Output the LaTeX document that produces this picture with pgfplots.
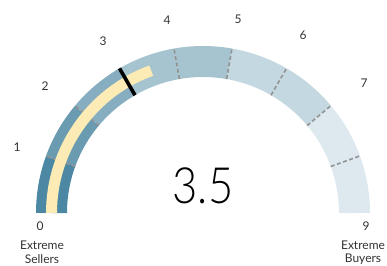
\documentclass[border=0pt]{standalone}
\usepackage{fontspec}
\setmainfont{Lato}
\newfontfamily\lightfont{Lato Light}
\usepackage{pgfplots}
\pgfplotsset{compat=1.18}
\definecolor{seg0}{HTML}{4C87A3}
\definecolor{seg1}{HTML}{6A9BB1}
\definecolor{seg2}{HTML}{86AEC0}
\definecolor{seg3}{HTML}{A6C4D0}
\definecolor{seg4}{HTML}{A6C4D0}
\definecolor{seg5}{HTML}{C3D8E0}
\definecolor{seg6}{HTML}{C3D8E0}
\definecolor{seg7}{HTML}{DDE9EE}
\definecolor{seg8}{HTML}{DDE9EE}
\definecolor{barcol}{HTML}{FCEBB4}
\definecolor{txt}{HTML}{333333}
\def\gaugevalue{3.5}
\def\needlevalue{3}
\def\Rout{167}
\def\Rin{136}
\begin{document}
\begin{tikzpicture}
\begin{axis}[name=ax, x=1pt, y=1pt,
  xmin=-203, xmax=184, ymin=-52, ymax=213,
  hide axis, clip=false]
% gauge segments (0..9, 20 degrees each)
\pgfplotsinvokeforeach{0,...,8}{
  \draw[seg#1, line width=31pt] (axis cs:0,0) ++({180-20*#1}:151.5pt)
     arc[start angle={180-20*#1}, end angle={180-20*(#1+1)}, radius=151.5pt];
}
% dashed separators
\pgfplotsinvokeforeach{1,2,4,5,6,7,8}{
  \draw[gray!85, line width=1.6pt, dash pattern=on 4pt off 2.5pt]
     (axis cs:0,0) ++({180-20*#1}:\Rin pt) -- ++({180-20*#1}:31pt);
}
% value bar
\draw[barcol, line width=11pt] (axis cs:0,0) ++(180:151.5pt)
   arc[start angle=180, end angle={180-20*\gaugevalue}, radius=151.5pt];
% needle
\draw[black, line width=3.6pt] (axis cs:0,0) ++({180-20*\needlevalue}:\Rin pt) -- ++({180-20*\needlevalue}:31pt);
% labels
\begin{scope}[every node/.style={text=txt, font=\fontsize{12}{14}\selectfont}]
\node at (axis cs:-163,-13) {0};
\node at (axis cs:-186,66) {1};
\node at (axis cs:-158,127) {2};
\node at (axis cs:-100,172) {3};
\node at (axis cs:-36,193) {4};
\node at (axis cs:35,194) {5};
\node at (axis cs:100,178) {6};
\node at (axis cs:161,130) {7};
\node at (axis cs:163,-13) {9};
\node at (axis cs:-161,-32) {Extreme};
\node at (axis cs:-161,-46) {Sellers};
\node at (axis cs:160,-32) {Extreme};
\node at (axis cs:160,-46) {Buyers};
\end{scope}
\node[anchor=base, inner sep=0pt, xscale=0.87, font=\lightfont\fontsize{50}{50}\selectfont] at (axis cs:0,10) {\gaugevalue};
\end{axis}
\pgfresetboundingbox
\path[use as bounding box] (ax.south west) rectangle (ax.north east);
\end{tikzpicture}
\end{document}
